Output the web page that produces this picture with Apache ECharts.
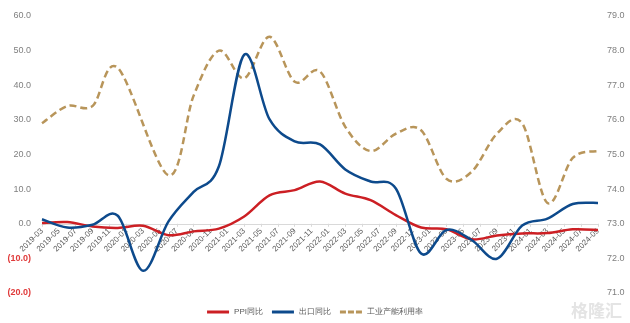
<!DOCTYPE html>
<html>
<head>
<meta charset="utf-8">
<script src="https://cdn.jsdelivr.net/npm/echarts@6/dist/echarts.min.js"></script>
<style>html,body{margin:0;padding:0;background:#fff;}#c{width:630px;height:323px;}</style>
</head>
<body>
<div id="c"></div>
<script>
// Quarter-end months at which values are reported
const quarterEnds = ['2019-03','2019-06','2019-09','2019-12','2020-03','2020-06','2020-09','2020-12',
  '2021-03','2021-06','2021-09','2021-12','2022-03','2022-06','2022-09','2022-12',
  '2023-03','2023-06','2023-09','2023-12','2024-03','2024-06','2024-09'];
const ppiYoY = [0.2, 0.5, -0.8, -1.2, -0.6, -3.3, -2.2, -1.4,
  2.1, 8.2, 9.7, 12.2, 8.7, 6.8, 2.5, -1.1,
  -1.6, -4.5, -3.4, -2.8, -2.7, -1.6, -1.8];
const exportYoY = [1.3, -1.1, -0.3, 2.3, -13.6, 0.6, 9.2, 16.6,
  48.8, 30.2, 23.8, 22.9, 15.7, 12.2, 10.2, -8.6,
  -1.8, -4.7, -10.1, -0.5, 1.5, 5.7, 6.0];
const capacityUtil = [75.9, 76.4, 76.4, 77.5, null, 74.4, 76.7, 78.0,
  77.2, 78.4, 77.1, 77.4, 75.8, 75.1, 75.6, 75.7,
  74.3, 74.5, 75.6, 75.9, 73.6, 74.9, 75.1];
const seriesNames = ['PPI同比', '出口同比', '工业产能利用率'];

// monthly category axis from 2019-03 to 2024-09
const months = [];
for (let y = 2019; y <= 2024; y++) {
  for (let m = 1; m <= 12; m++) {
    const s = y + '-' + (m < 10 ? '0' + m : '' + m);
    if (s >= '2019-03' && s <= '2024-09') months.push(s);
  }
}
function toPairs(arr) {
  const out = [];
  quarterEnds.forEach((m, i) => { if (arr[i] !== null) out.push([months.indexOf(m), arr[i]]); });
  return out;
}

// smooth curve (Catmull-Rom style) through the points, positioned by the chart's own axes
function smoothRenderer(values, color, dash) {
  return function (params, api) {
    if (params.dataIndex !== 0) return null;
    const pts = toPairs(values).map(p => api.coord(p));
    let d = 'M' + pts[0][0] + ',' + pts[0][1];
    for (let i = 0; i < pts.length - 1; i++) {
      const p0 = pts[i - 1] || pts[i], p1 = pts[i], p2 = pts[i + 1], p3 = pts[i + 2] || pts[i + 1];
      const c1x = p1[0] + (p2[0] - p0[0]) / 6, c1y = p1[1] + (p2[1] - p0[1]) / 6;
      const c2x = p2[0] - (p3[0] - p1[0]) / 6, c2y = p2[1] - (p3[1] - p1[1]) / 6;
      d += ' C' + c1x + ',' + c1y + ' ' + c2x + ',' + c2y + ' ' + p2[0] + ',' + p2[1];
    }
    return {
      type: 'path', shape: {pathData: d},
      style: {fill: 'none', stroke: color, lineWidth: 2.5, lineDash: dash || null, lineCap: 'butt'}
    };
  };
}

const H = 323;
const gridTop = 16, gridBottom = 30;
const yMin = -20, yMax = 60;
const gridH = H - gridTop - gridBottom;
const zeroOffset = gridH * (0 - yMin) / (yMax - yMin);

const chart = echarts.init(document.getElementById('c'), null, {renderer: 'canvas'});
const font = 'Liberation Sans, Arial, sans-serif';
const solidIcon = 'path://M0,0H22V3H0Z';
const dashIcon = 'path://M0,0H6V3H0Z M8,0H14V3H8Z M16,0H22V3H16Z';
const colors = ['#cc1f24', '#0d4a8c', '#b8955a'];
chart.setOption({
  animation: false,
  textStyle: {fontFamily: font},
  grid: {left: 42, right: 32, top: gridTop, bottom: gridBottom, containLabel: false, outerBoundsMode: 'none'},
  legend: {
    bottom: 2, left: 'center',
    itemWidth: 22, itemHeight: 3, itemGap: 9,
    textStyle: {fontSize: 8, color: '#595959', fontFamily: font},
    data: [
      {name: seriesNames[0], icon: solidIcon},
      {name: seriesNames[1], icon: solidIcon},
      {name: seriesNames[2], icon: dashIcon}
    ]
  },
  xAxis: {
    type: 'category', data: months, boundaryGap: false, position: 'bottom',
    offset: -zeroOffset,
    axisLine: {onZero: false, lineStyle: {color: '#d9d9d9', width: 1}},
    axisTick: {show: true, interval: 1, length: 3, lineStyle: {color: '#d9d9d9'}},
    axisLabel: {interval: 1, rotate: 45, fontSize: 8, color: '#595959', margin: 6, fontFamily: font, hideOverlap: false}
  },
  yAxis: [{
    type: 'value', min: yMin, max: yMax, interval: 10,
    splitLine: {show: false}, axisLine: {show: false}, axisTick: {show: false},
    axisLabel: {
      margin: 11, fontSize: 9, color: '#7f7f7f', fontFamily: font,
      formatter: v => v < 0 ? '{neg|(' + Math.abs(v).toFixed(1) + ')}' : v.toFixed(1),
      rich: {neg: {color: '#e03a3a', fontWeight: 'bold', fontSize: 9, fontFamily: font}}
    }
  }, {
    type: 'value', min: 71, max: 79, interval: 1,
    splitLine: {show: false}, axisLine: {show: false}, axisTick: {show: false},
    axisLabel: {margin: 9, fontSize: 9, color: '#7f7f7f', fontFamily: font,
      formatter: v => v.toFixed(1)}
  }],
  series: [{
    name: seriesNames[0], type: 'custom', data: toPairs(ppiYoY), yAxisIndex: 0, z: 3,
    encode: {x: 0, y: 1}, itemStyle: {color: colors[0]},
    renderItem: smoothRenderer(ppiYoY, colors[0])
  }, {
    name: seriesNames[1], type: 'custom', data: toPairs(exportYoY), yAxisIndex: 0, z: 4,
    encode: {x: 0, y: 1}, itemStyle: {color: colors[1]},
    renderItem: smoothRenderer(exportYoY, colors[1])
  }, {
    name: seriesNames[2], type: 'custom', data: toPairs(capacityUtil), yAxisIndex: 1, z: 2,
    encode: {x: 0, y: 1}, itemStyle: {color: colors[2]},
    renderItem: smoothRenderer(capacityUtil, colors[2], [7, 4])
  }],
  graphic: [{
    type: 'text', right: 8, bottom: 4,
    style: {text: '格隆汇', fontSize: 17, fill: '#e4e4e4', fontFamily: 'Noto Sans CJK SC', fontWeight: 'bold'}
  }]
});
</script>
</body>
</html>
